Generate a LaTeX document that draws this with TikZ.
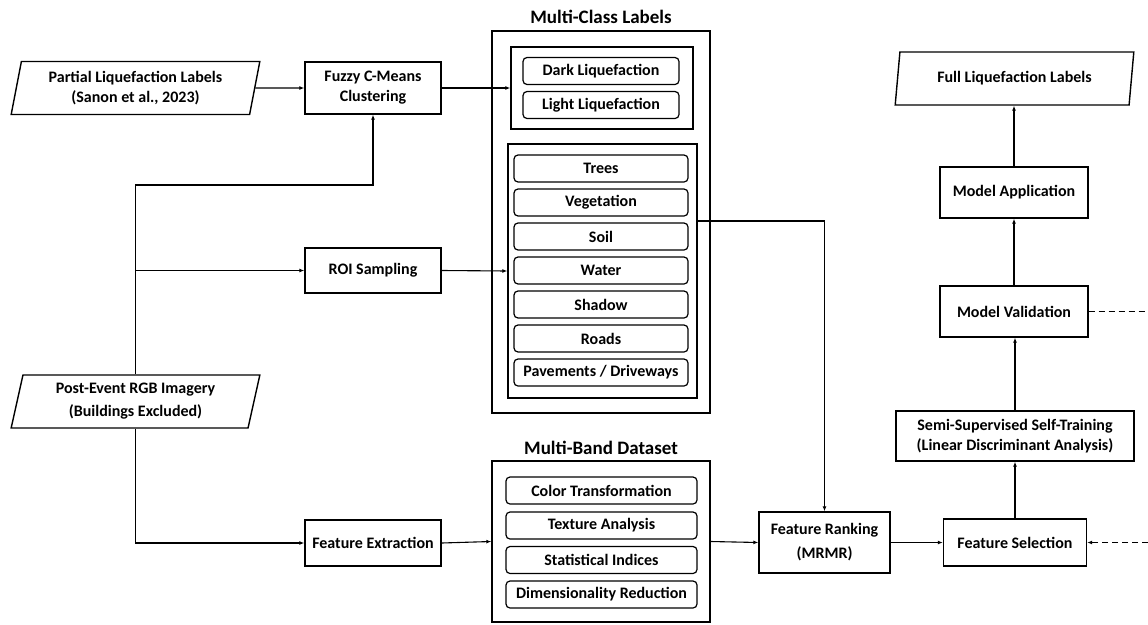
\documentclass[tikz,border=0pt]{standalone}
\usepackage{fontspec}
\setmainfont{Carlito}
\usetikzlibrary{shapes.geometric,arrows.meta}

\begin{document}
\begin{tikzpicture}
[x=1pt,y=-1pt,
font=\fontsize{16}{20}\selectfont\bfseries,
box/.style={draw,line width=1.4pt,align=center,inner sep=0pt},
item/.style={draw,line width=1.2pt,rounded corners=4pt,inner sep=0pt,minimum height=27},
para/.style={trapezium,trapezium left angle=77,trapezium right angle=103,
trapezium stretches=true,draw,line width=1.4pt,align=center,inner sep=0pt,
minimum width=249,minimum height=53},
title/.style={font=\fontsize{19}{23}\selectfont\bfseries},
arr/.style={line width=1.1pt,-{Latex[length=5pt,width=4pt]}},
dashline/.style={line width=1.1pt,dash pattern=on 6pt off 4pt}]
\path[fill=white,use as bounding box] (0,0) rectangle (1148,624);
\node[para] (pl) at (135.5,88) {Partial Liquefaction Labels\\(Sanon et al., 2023)};
\node[para] (post) at (135.5,401.5) {Post-Event RGB Imagery\\[3pt](Buildings Excluded)};
\node[box,minimum width=136,minimum height=52] (fcm) at (373,88) {Fuzzy C-Means\\Clustering};
\node[box,minimum width=136,minimum height=45] (roi) at (373,270.5) {ROI Sampling};
\node[box,minimum width=136,minimum height=46] (fe) at (373,543) {Feature Extraction};
\node[title] (mcltitle) at (601,17) {Multi-Class Labels};
\node[box,minimum width=218,minimum height=382] (mcl) at (601,222) {};
\node[box,minimum width=182,minimum height=82] (liq) at (602,88) {};
\node[item,minimum width=156] (dark) at (601,71) {Dark Liquefaction};
\node[item,minimum width=156] (light) at (601,105) {Light Liquefaction};
\node[box,minimum width=189,minimum height=254] (cls) at (602.5,271) {};
\node[item,minimum width=174] (trees) at (601,168.5) {Trees};
\node[item,minimum width=174] (veg) at (601,202.5) {Vegetation};
\node[item,minimum width=174] (soil) at (601,236.5) {Soil};
\node[item,minimum width=174] (water) at (601,270.5) {Water};
\node[item,minimum width=174] (shadow) at (601,304.5) {Shadow};
\node[item,minimum width=174] (roads) at (601,338.5) {Roads};
\node[item,minimum width=174] (pave) at (601,372.5) {Pavements / Driveways};
\node[title] (mbdtitle) at (601,448) {Multi-Band Dataset};
\node[box,minimum width=218,minimum height=161] (mbd) at (601,541.5) {};
\node[item,minimum width=191] (color) at (601.5,490.5) {Color Transformation};
\node[item,minimum width=191] (texture) at (601.5,525.5) {Texture Analysis};
\node[item,minimum width=191] (stats) at (601.5,560) {Statistical Indices};
\node[item,minimum width=191] (dimred) at (601.5,594.5) {Dimensionality Reduction};
\node[box,minimum width=131,minimum height=61] (fr) at (824.5,542.5) {Feature Ranking\\[4pt](MRMR)};
\node[box,minimum width=143,minimum height=47] (fs) at (1015,542.5) {Feature Selection};
\node[box,minimum width=238,minimum height=50] (sst) at (1015,436) {Semi-Supervised Self-Training\\(Linear Discriminant Analysis)};
\node[box,minimum width=148,minimum height=51] (mv) at (1014,311.5) {Model Validation};
\node[box,minimum width=148,minimum height=51] (ma) at (1014,192.5) {Model Application};
\node[para,minimum width=239] (full) at (1014.5,78.5) {Full Liquefaction Labels};
\coordinate (split) at (135.5,185);
\coordinate (mvout) at (1148,311.5);
\coordinate (fsin) at (1148,542.5);
\draw[arr] (pl.east) -- (fcm.west);
\draw[arr] (fcm.east) -- (liq.west);
\draw[arr] (post.north -| post.center) -- (split) -| (fcm.south);
\draw[arr] (roi.west -| split) -- (roi.west);
\draw[arr] (roi.east) -- (cls.west);
\draw[arr] (post.south -| post.center) |- (fe.west);
\draw[arr] (fe.east) -- (mbd.west);
\draw[arr] (mbd.east) -- (fr.west);
\draw[arr] (cls.east |- 0,221) -| (fr.north);
\draw[arr] (fr.east) -- (fs.west);
\draw[arr] (fs.north) -- (sst.south);
\draw[arr] (sst.north) -- (sst.north |- mv.south);
\draw[arr] (mv.north) -- (ma.south);
\draw[arr] (ma.north) -- (ma.north |- full.south);
\draw[dashline] (mv.east) -- (mvout);
\draw[dashline,-{Latex[length=5pt,width=4pt]}] (fsin) -- (fs.east);
\end{tikzpicture}
\end{document}
